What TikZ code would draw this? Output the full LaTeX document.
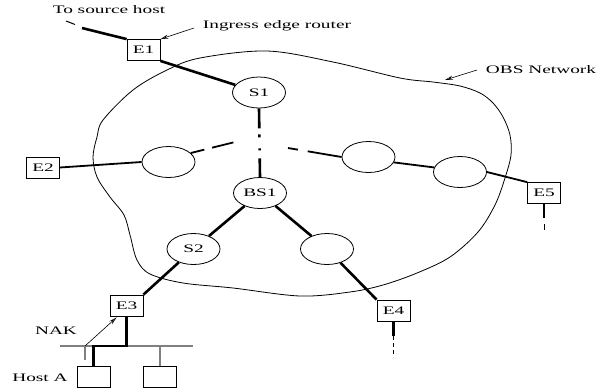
\documentclass[tikz,border=0pt]{standalone}
\usepackage{fontspec}
\setmainfont{Liberation Serif}[FakeStretch=1.68]
\usetikzlibrary{arrows.meta,shapes.geometric,calc}

\begin{document}
\begin{tikzpicture}[x=1pt,y=-1pt,
  font=\fontsize{11.5}{13}\selectfont,
  router/.style={draw, line width=0.8pt, minimum width=33pt, minimum height=21pt, inner sep=0pt},
  switch/.style={draw, ellipse, line width=0.8pt, minimum width=53pt, minimum height=31pt, inner sep=0pt},
  host/.style={draw, line width=0.8pt, minimum width=33pt, minimum height=21pt, inner sep=0pt},
  heavy/.style={line width=2.6pt},
  mid/.style={line width=1.8pt},
  bus/.style={draw=black!50, line width=1.3pt},
  label/.style={inner sep=0pt},
  pointer/.style={line width=0.6pt, -{Stealth[length=8pt,width=4pt,open]}}
]
\useasboundingbox (0,0) rectangle (597,389);

% OBS network cloud
\draw[line width=0.8pt] plot[smooth cycle, tension=0.55] coordinates {
  (103,120) (133,90) (167,70) (200,58) (267,51) (333,62) (400,78) (433,82)
  (460,86) (480,93) (493,103) (503,117) (510,135) (511,155) (505,178)
  (495,205) (478,232) (450,257) (417,273) (383,285) (350,292) (300,296)
  (233,288) (183,283) (150,274) (137,260) (130,235) (124,215) (110,197)
  (97,177) (93,157) (97,137)};

% edge routers
\node[router] (E1) at (143.5,50) {E1};
\node[router] (E2) at (43,167.5) {E2};
\node[router] (E3) at (126.5,305.5) {E3};
\node[router] (E4) at (393.5,310.5) {E4};
\node[router] (E5) at (544,193) {E5};

% core switches
\node[switch] (S1) at (259,92.5) {S1};
\node[switch] (BS1) at (260,193) {BS1};
\node[switch] (S2) at (193.5,249) {S2};
\node[switch] (L) at (168.5,162) {};
\node[switch] (R1) at (368.5,157) {};
\node[switch] (R2) at (460,172) {};
\node[switch] (R3) at (327,249) {};

% hosts
\node[host] (HA) at (93.5,376.5) {};
\node[host] (HB) at (160,376.5) {};

% labels
\node[label] (tsh) at (109,10) {To source host};
\node[label] (ier) at (277,26) {Ingress edge router};
\node[label] (obs) at (541,70) {OBS Network};
\node[label] (nak) at (56,331) {NAK};
\node[label] (hosta) at (40,378) {Host A};

% helper points
\coordinate (src) at (82,28);
\coordinate (srcdashA) at (75,24.5);
\coordinate (srcdashB) at (66,21);
\coordinate (hubL) at (235,142);
\coordinate (hubR) at (288,148);
\coordinate (e4end) at (393.5,357);
\coordinate (e4mid) at (393.5,336);
\coordinate (e5mid) at (544,218);
\coordinate (e5dashA) at (544,224);
\coordinate (e5dashB) at (544,230);
\coordinate (busL) at (60,346);
\coordinate (busR) at (193,346);
\coordinate (busE3) at (126.5,346);
\coordinate (busHA) at (93.5,346);
\coordinate (busHB) at (160,346);
\coordinate (nakfoot) at (85,346);
\coordinate (nakstub) at (85,360);
\coordinate (ierfoot) at (194,28);
\coordinate (obsfoot) at (477,70);
\coordinate (obstip) at (445,80);

% links toward the source host
\draw[heavy] (E1.north west) -- (src);
\draw[line width=1pt] (srcdashA) -- (srcdashB);
\draw[heavy] (E1.south east) -- (S1);

% path through the core
\draw[heavy, dash pattern=on 20pt off 6pt on 3pt off 11pt on 2pt off 8pt on 20pt]
  (S1.south) -- (BS1.north);
\draw[heavy] (BS1) -- (S2);
\draw[heavy] (BS1) -- (R3);
\draw[heavy] (S2) -- (E3.north east);
\draw[heavy] (R3) -- (E4.north west);
\draw[heavy] (E4.south) -- (e4mid);
\draw[line width=1pt, dash pattern=on 4pt off 3pt] (e4mid) -- (e4end);

% left branch
\draw[mid] (E2.east) -- (L.west);
\draw[mid, dash pattern=on 14pt off 8pt on 22pt] (L.22) -- (hubL);

% right branch
\draw[mid, dash pattern=on 10pt off 10pt on 100pt] (hubR) -- (R1.west);
\draw[mid] (R1.-12) -- (R2.170);
\draw[mid] (R2.east) -- (E5.north west);
\draw[heavy] (E5.south) -- (e5mid);
\draw[line width=1pt] (e5dashA) -- (e5dashB);

% local LAN at the ingress side
\draw[bus] (busL) -- (busR);
\draw[bus] (busHB) -- (HB.north);
\draw[bus] (nakfoot) -- (nakstub);
\draw[heavy] (E3.south) -- (busE3) -- (busHA) -- (HA.north);
\draw[pointer] (nakfoot) -- ([xshift=7pt,yshift=-1pt]E3.south west);

% callouts
\draw[pointer] (ierfoot) -- (E1.north east);
\draw[pointer] (obsfoot) -- (obstip);
\end{tikzpicture}
\end{document}
